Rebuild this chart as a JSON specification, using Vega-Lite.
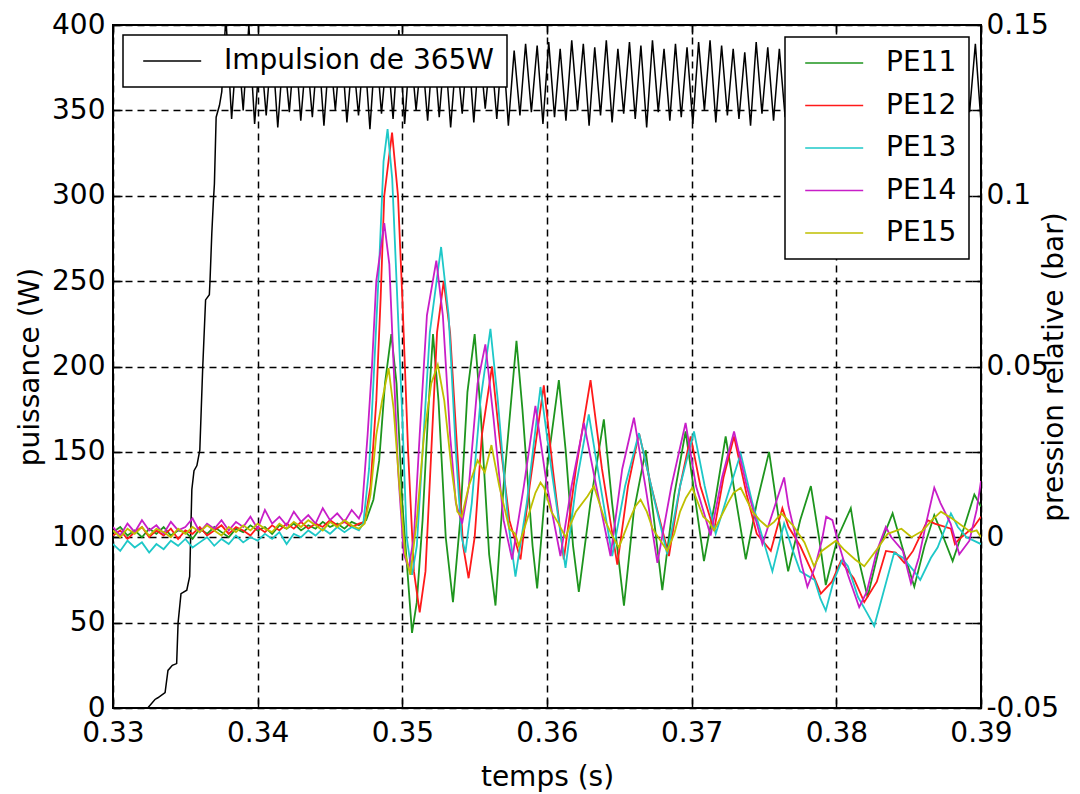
{
"$schema": "https://vega.github.io/schema/vega-lite/v6.json",
"width": 868, "height": 683,
"autosize": {"type": "none"},
"padding": {"left": 113, "top": 25, "right": 99, "bottom": 86},
"background": "white",
"config": {
 "view": {"stroke": "black", "strokeWidth": 2},
 "font": "DejaVu Sans",
 "axis": {"labelFont": "DejaVu Sans", "labelFontSize": 28, "labelColor": "black", "titleFont": "DejaVu Sans", "titleFontSize": 28, "titleFontWeight": "normal", "titleColor": "black", "domain": false, "tickColor": "black", "tickWidth": 1.5, "tickSize": -9, "gridColor": "black", "gridOpacity": 1, "gridDash": [7,5], "gridWidth": 1.5, "labelFlush": false, "labelOverlap": false},
 "legend": {"labelFont": "DejaVu Sans", "labelFontSize": 28, "labelColor": "black", "symbolType": "M-0.5,0H4.5", "symbolSize": 538, "symbolStrokeWidth": 1.5, "labelOffset": 61, "padding": 12, "rowPadding": 14.5, "strokeColor": "black", "fillColor": "white", "strokeWidth": 1.5, "zindex": 1, "labelLimit": 400}
},
"datasets": {
"power": [
{"t":0.33,"w":0},{"t":0.3324,"w":0},{"t":0.3329,"w":5},{"t":0.3331,"w":6},{"t":0.3336,"w":9},{"t":0.3338,"w":22},{"t":0.3341,"w":25},{"t":0.3344,"w":26},{"t":0.3345,"w":50},{"t":0.3347,"w":67},{"t":0.3351,"w":69},{"t":0.3353,"w":77},{"t":0.33545,"w":128},{"t":0.3356,"w":139},{"t":0.3358,"w":142},{"t":0.336,"w":151},{"t":0.3361,"w":175},{"t":0.3362,"w":199},{"t":0.3363,"w":219},{"t":0.3364,"w":239},{"t":0.33666,"w":242},{"t":0.33671,"w":251},{"t":0.33683,"w":278},{"t":0.33694,"w":297},{"t":0.33701,"w":307},{"t":0.33713,"w":346},{"t":0.33736,"w":353},{"t":0.33752,"w":361},
{"t":0.3378,"w":405},{"t":0.3382,"w":345},{"t":0.3386,"w":392},{"t":0.339,"w":350},{"t":0.33939,"w":400},{"t":0.33979,"w":342},{"t":0.34019,"w":388},{"t":0.34059,"w":347},{"t":0.34099,"w":390},{"t":0.34139,"w":340},{"t":0.34179,"w":386},{"t":0.34219,"w":349},{"t":0.34258,"w":391},{"t":0.34298,"w":344},{"t":0.34338,"w":385},{"t":0.34378,"w":346},{"t":0.34418,"w":389},{"t":0.34458,"w":341},{"t":0.34497,"w":387},{"t":0.34537,"w":350},{"t":0.34577,"w":391},{"t":0.34617,"w":343},{"t":0.34657,"w":384},{"t":0.34697,"w":347},{"t":0.34736,"w":388},{"t":0.34776,"w":339},{"t":0.34816,"w":390},{"t":0.34856,"w":348},{"t":0.34896,"w":386},{"t":0.34936,"w":345},{"t":0.34976,"w":397},{"t":0.35016,"w":342},{"t":0.35055,"w":389},{"t":0.35095,"w":350},{"t":0.35135,"w":385},{"t":0.35175,"w":344},{"t":0.35215,"w":391},{"t":0.35255,"w":346},{"t":0.35294,"w":387},{"t":0.35334,"w":340},{"t":0.35374,"w":384},{"t":0.35414,"w":348},{"t":0.35454,"w":390},{"t":0.35494,"w":343},{"t":0.35533,"w":388},{"t":0.35573,"w":351},{"t":0.35613,"w":386},{"t":0.35653,"w":345},{"t":0.35693,"w":391},{"t":0.35733,"w":341},{"t":0.35773,"w":385},{"t":0.35813,"w":347},{"t":0.35852,"w":389},{"t":0.35892,"w":349},{"t":0.35932,"w":388},{"t":0.35972,"w":342},{"t":0.36012,"w":390},{"t":0.36052,"w":346},{"t":0.36091,"w":386},{"t":0.36131,"w":344},{"t":0.36171,"w":391},{"t":0.36211,"w":350},{"t":0.36251,"w":389},{"t":0.36291,"w":341},{"t":0.3633,"w":387},{"t":0.3637,"w":347},{"t":0.3641,"w":391},{"t":0.3645,"w":343},{"t":0.3649,"w":386},{"t":0.3653,"w":348},{"t":0.3657,"w":390},{"t":0.3661,"w":345},{"t":0.36649,"w":388},{"t":0.36689,"w":340},{"t":0.36729,"w":391},{"t":0.36769,"w":349},{"t":0.36809,"w":386},{"t":0.36849,"w":344},{"t":0.36888,"w":389},{"t":0.36928,"w":346},{"t":0.36968,"w":387},{"t":0.37008,"w":342},{"t":0.37048,"w":390},{"t":0.37088,"w":350},{"t":0.37127,"w":391},{"t":0.37167,"w":343},{"t":0.37207,"w":388},{"t":0.37247,"w":347},{"t":0.37287,"w":386},{"t":0.37327,"w":345},{"t":0.37367,"w":384},{"t":0.37407,"w":341},{"t":0.37446,"w":390},{"t":0.37486,"w":348},{"t":0.37526,"w":387},{"t":0.37566,"w":344},{"t":0.37606,"w":386},{"t":0.37646,"w":346},{"t":0.37685,"w":389},{"t":0.37725,"w":340},{"t":0.37765,"w":391},{"t":0.37805,"w":349},{"t":0.37845,"w":385},{"t":0.37885,"w":343},{"t":0.37924,"w":388},{"t":0.37964,"w":347},{"t":0.38004,"w":390},{"t":0.38044,"w":345},{"t":0.38084,"w":386},{"t":0.38124,"w":342},{"t":0.38164,"w":389},{"t":0.38204,"w":350},{"t":0.38243,"w":387},{"t":0.38283,"w":344},{"t":0.38323,"w":391},{"t":0.38363,"w":346},{"t":0.38403,"w":385},{"t":0.38443,"w":341},{"t":0.38482,"w":388},{"t":0.38522,"w":348},{"t":0.38562,"w":390},{"t":0.38602,"w":343},{"t":0.38642,"w":386},{"t":0.38682,"w":347},{"t":0.38721,"w":389},{"t":0.38761,"w":345},{"t":0.38801,"w":387},{"t":0.38841,"w":342},{"t":0.38881,"w":390},{"t":0.38921,"w":349},{"t":0.38961,"w":389},{"t":0.39,"w":343}
],
"pres": [
{"t":0.33,"s":"PE11","p":0.0015},{"t":0.3305,"s":"PE11","p":0.003},{"t":0.331,"s":"PE11","p":0.0005},{"t":0.3315,"s":"PE11","p":0.002},{"t":0.332,"s":"PE11","p":0},{"t":0.3325,"s":"PE11","p":0.0025},{"t":0.333,"s":"PE11","p":0.001},{"t":0.3335,"s":"PE11","p":0.003},{"t":0.334,"s":"PE11","p":0.0005},{"t":0.3345,"s":"PE11","p":0.002},{"t":0.335,"s":"PE11","p":0.0015},{"t":0.3355,"s":"PE11","p":-0.0005},{"t":0.336,"s":"PE11","p":0.0025},{"t":0.3365,"s":"PE11","p":0.001},{"t":0.337,"s":"PE11","p":0.003},{"t":0.3375,"s":"PE11","p":0.0015},{"t":0.338,"s":"PE11","p":0},{"t":0.3385,"s":"PE11","p":0.0025},{"t":0.339,"s":"PE11","p":0.0015},{"t":0.3395,"s":"PE11","p":0.0035},{"t":0.34,"s":"PE11","p":0.002},{"t":0.3405,"s":"PE11","p":0.003},{"t":0.341,"s":"PE11","p":0.001},{"t":0.3415,"s":"PE11","p":0.0035},{"t":0.342,"s":"PE11","p":0.0025},{"t":0.3425,"s":"PE11","p":0.004},{"t":0.343,"s":"PE11","p":0.002},{"t":0.3435,"s":"PE11","p":0.0035},{"t":0.344,"s":"PE11","p":0.0025},{"t":0.3445,"s":"PE11","p":0.0045},{"t":0.345,"s":"PE11","p":0.003},{"t":0.3455,"s":"PE11","p":0.004},{"t":0.346,"s":"PE11","p":0.0025},{"t":0.3465,"s":"PE11","p":0.0045},{"t":0.347,"s":"PE11","p":0.0035},{"t":0.3475,"s":"PE11","p":0.005},{"t":0.348,"s":"PE11","p":0.011},{"t":0.3484,"s":"PE11","p":0.0225},{"t":0.3488,"s":"PE11","p":0.045},{"t":0.34924,"s":"PE11","p":0.0595},{"t":0.3496,"s":"PE11","p":0.045},{"t":0.35,"s":"PE11","p":0.01},{"t":0.35067,"s":"PE11","p":-0.028},{"t":0.351,"s":"PE11","p":-0.019},{"t":0.3514,"s":"PE11","p":0.005},{"t":0.3518,"s":"PE11","p":0.0375},{"t":0.35212,"s":"PE11","p":0.0595},{"t":0.3525,"s":"PE11","p":0.04},{"t":0.353,"s":"PE11","p":0},{"t":0.3535,"s":"PE11","p":-0.019},{"t":0.354,"s":"PE11","p":0.005},{"t":0.3545,"s":"PE11","p":0.0425},{"t":0.355,"s":"PE11","p":0.0595},{"t":0.3554,"s":"PE11","p":0.0375},{"t":0.356,"s":"PE11","p":-0.005},{"t":0.35644,"s":"PE11","p":-0.02},{"t":0.357,"s":"PE11","p":0.015},{"t":0.35789,"s":"PE11","p":0.0575},{"t":0.3583,"s":"PE11","p":0.0375},{"t":0.359,"s":"PE11","p":-0.0025},{"t":0.35932,"s":"PE11","p":-0.015},{"t":0.36,"s":"PE11","p":0.02},{"t":0.36082,"s":"PE11","p":0.046},{"t":0.3613,"s":"PE11","p":0.025},{"t":0.3618,"s":"PE11","p":-0.0025},{"t":0.3622,"s":"PE11","p":-0.016},{"t":0.363,"s":"PE11","p":0.01},{"t":0.36393,"s":"PE11","p":0.0345},{"t":0.3645,"s":"PE11","p":0.01},{"t":0.36532,"s":"PE11","p":-0.02},{"t":0.366,"s":"PE11","p":0.0075},{"t":0.36682,"s":"PE11","p":0.0255},{"t":0.3674,"s":"PE11","p":0.005},{"t":0.36797,"s":"PE11","p":-0.0155},{"t":0.3688,"s":"PE11","p":0.0125},{"t":0.36958,"s":"PE11","p":0.031},{"t":0.3702,"s":"PE11","p":0.0125},{"t":0.37085,"s":"PE11","p":-0.007},{"t":0.3716,"s":"PE11","p":0.01},{"t":0.37235,"s":"PE11","p":0.0295},{"t":0.373,"s":"PE11","p":0.0125},{"t":0.37374,"s":"PE11","p":-0.0065},{"t":0.3745,"s":"PE11","p":0.01},{"t":0.37535,"s":"PE11","p":0.025},{"t":0.376,"s":"PE11","p":0.006},{"t":0.37667,"s":"PE11","p":-0.01},{"t":0.3775,"s":"PE11","p":0.005},{"t":0.37824,"s":"PE11","p":0.015},{"t":0.3788,"s":"PE11","p":0},{"t":0.37927,"s":"PE11","p":-0.014},{"t":0.3801,"s":"PE11","p":0},{"t":0.381,"s":"PE11","p":0.0085},{"t":0.3816,"s":"PE11","p":-0.0075},{"t":0.38216,"s":"PE11","p":-0.0175},{"t":0.383,"s":"PE11","p":-0.0025},{"t":0.38389,"s":"PE11","p":0.007},{"t":0.3847,"s":"PE11","p":-0.005},{"t":0.38539,"s":"PE11","p":-0.0145},{"t":0.3861,"s":"PE11","p":-0.0025},{"t":0.38677,"s":"PE11","p":0.0065},{"t":0.3874,"s":"PE11","p":0},{"t":0.38804,"s":"PE11","p":-0.007},{"t":0.3888,"s":"PE11","p":0.0025},{"t":0.38954,"s":"PE11","p":0.0125},{"t":0.39,"s":"PE11","p":0.009},
{"t":0.33,"s":"PE12","p":0.0005},{"t":0.3305,"s":"PE12","p":0.002},{"t":0.331,"s":"PE12","p":-0.0005},{"t":0.3315,"s":"PE12","p":0.0015},{"t":0.332,"s":"PE12","p":0.003},{"t":0.3325,"s":"PE12","p":0},{"t":0.333,"s":"PE12","p":0.002},{"t":0.3335,"s":"PE12","p":0.0005},{"t":0.334,"s":"PE12","p":0.0025},{"t":0.3345,"s":"PE12","p":-0.0005},{"t":0.335,"s":"PE12","p":0.002},{"t":0.3355,"s":"PE12","p":0.001},{"t":0.336,"s":"PE12","p":0.003},{"t":0.3365,"s":"PE12","p":0.0005},{"t":0.337,"s":"PE12","p":0.002},{"t":0.3375,"s":"PE12","p":0.0035},{"t":0.338,"s":"PE12","p":0.001},{"t":0.3385,"s":"PE12","p":0.003},{"t":0.339,"s":"PE12","p":0.002},{"t":0.3395,"s":"PE12","p":0.0005},{"t":0.34,"s":"PE12","p":0.003},{"t":0.3405,"s":"PE12","p":0.0015},{"t":0.341,"s":"PE12","p":0.0035},{"t":0.3415,"s":"PE12","p":0.002},{"t":0.342,"s":"PE12","p":0.004},{"t":0.3425,"s":"PE12","p":0.0025},{"t":0.343,"s":"PE12","p":0.0045},{"t":0.3435,"s":"PE12","p":0.0025},{"t":0.344,"s":"PE12","p":0.004},{"t":0.3445,"s":"PE12","p":0.003},{"t":0.345,"s":"PE12","p":0.005},{"t":0.3455,"s":"PE12","p":0.0035},{"t":0.346,"s":"PE12","p":0.0045},{"t":0.3465,"s":"PE12","p":0.003},{"t":0.347,"s":"PE12","p":0.004},{"t":0.3474,"s":"PE12","p":0.0045},{"t":0.3478,"s":"PE12","p":0.015},{"t":0.3482,"s":"PE12","p":0.04},{"t":0.3485,"s":"PE12","p":0.07},{"t":0.34875,"s":"PE12","p":0.1},{"t":0.34929,"s":"PE12","p":0.1185},{"t":0.3497,"s":"PE12","p":0.1},{"t":0.35,"s":"PE12","p":0.07},{"t":0.3504,"s":"PE12","p":0.025},{"t":0.3508,"s":"PE12","p":-0.01},{"t":0.3512,"s":"PE12","p":-0.022},{"t":0.3516,"s":"PE12","p":-0.01},{"t":0.352,"s":"PE12","p":0.025},{"t":0.3524,"s":"PE12","p":0.06},{"t":0.35286,"s":"PE12","p":0.075},{"t":0.3533,"s":"PE12","p":0.06},{"t":0.3538,"s":"PE12","p":0.025},{"t":0.3542,"s":"PE12","p":-0.0025},{"t":0.35458,"s":"PE12","p":-0.012},{"t":0.355,"s":"PE12","p":0},{"t":0.3555,"s":"PE12","p":0.03},{"t":0.3562,"s":"PE12","p":0.05},{"t":0.3567,"s":"PE12","p":0.03},{"t":0.3574,"s":"PE12","p":0.005},{"t":0.35817,"s":"PE12","p":-0.0065},{"t":0.3588,"s":"PE12","p":0.015},{"t":0.35978,"s":"PE12","p":0.0445},{"t":0.3604,"s":"PE12","p":0.02},{"t":0.36116,"s":"PE12","p":-0.0065},{"t":0.362,"s":"PE12","p":0.02},{"t":0.36301,"s":"PE12","p":0.046},{"t":0.3638,"s":"PE12","p":0.02},{"t":0.36486,"s":"PE12","p":-0.008},{"t":0.3656,"s":"PE12","p":0.015},{"t":0.36636,"s":"PE12","p":0.0305},{"t":0.3672,"s":"PE12","p":0.015},{"t":0.36843,"s":"PE12","p":-0.0055},{"t":0.3692,"s":"PE12","p":0.015},{"t":0.36993,"s":"PE12","p":0.0295},{"t":0.3706,"s":"PE12","p":0.015},{"t":0.37155,"s":"PE12","p":0.002},{"t":0.3722,"s":"PE12","p":0.0175},{"t":0.37293,"s":"PE12","p":0.0295},{"t":0.3738,"s":"PE12","p":0.0125},{"t":0.3745,"s":"PE12","p":0.001},{"t":0.37547,"s":"PE12","p":-0.004},{"t":0.37627,"s":"PE12","p":0.0085},{"t":0.3775,"s":"PE12","p":-0.0025},{"t":0.37893,"s":"PE12","p":-0.0165},{"t":0.38031,"s":"PE12","p":-0.007},{"t":0.38193,"s":"PE12","p":-0.019},{"t":0.38343,"s":"PE12","p":-0.004},{"t":0.3847,"s":"PE12","p":-0.0075},{"t":0.38631,"s":"PE12","p":0.005},{"t":0.38792,"s":"PE12","p":0.0025},{"t":0.3885,"s":"PE12","p":-0.0005},{"t":0.39,"s":"PE12","p":0.006},
{"t":0.3767,"s":"PE12","p":0.003},{"t":0.3783,"s":"PE12","p":-0.01},{"t":0.3797,"s":"PE12","p":-0.013},{"t":0.3812,"s":"PE12","p":-0.012},{"t":0.3828,"s":"PE12","p":-0.013},{"t":0.3841,"s":"PE12","p":-0.0045},{"t":0.3853,"s":"PE12","p":-0.004},{"t":0.3868,"s":"PE12","p":0.004},{"t":0.3882,"s":"PE12","p":-0.002},{"t":0.3895,"s":"PE12","p":0.003},
{"t":0.33,"s":"PE13","p":-0.002},{"t":0.3305,"s":"PE13","p":-0.004},{"t":0.331,"s":"PE13","p":-0.001},{"t":0.3315,"s":"PE13","p":-0.003},{"t":0.332,"s":"PE13","p":-0.0015},{"t":0.3325,"s":"PE13","p":-0.0045},{"t":0.333,"s":"PE13","p":-0.002},{"t":0.3335,"s":"PE13","p":-0.0035},{"t":0.334,"s":"PE13","p":-0.001},{"t":0.3345,"s":"PE13","p":-0.0025},{"t":0.335,"s":"PE13","p":-0.0005},{"t":0.3355,"s":"PE13","p":-0.003},{"t":0.336,"s":"PE13","p":-0.0015},{"t":0.3365,"s":"PE13","p":0},{"t":0.337,"s":"PE13","p":-0.0025},{"t":0.3375,"s":"PE13","p":-0.0005},{"t":0.338,"s":"PE13","p":-0.002},{"t":0.3385,"s":"PE13","p":0.0005},{"t":0.339,"s":"PE13","p":-0.0015},{"t":0.3395,"s":"PE13","p":0},{"t":0.34,"s":"PE13","p":-0.001},{"t":0.3405,"s":"PE13","p":0.001},{"t":0.341,"s":"PE13","p":-0.0005},{"t":0.3415,"s":"PE13","p":0.0015},{"t":0.342,"s":"PE13","p":-0.002},{"t":0.3425,"s":"PE13","p":0.001},{"t":0.343,"s":"PE13","p":0},{"t":0.3435,"s":"PE13","p":0.002},{"t":0.344,"s":"PE13","p":0.0005},{"t":0.3445,"s":"PE13","p":0.0025},{"t":0.345,"s":"PE13","p":0.001},{"t":0.3455,"s":"PE13","p":0.003},{"t":0.346,"s":"PE13","p":0.0015},{"t":0.3465,"s":"PE13","p":0.003},{"t":0.347,"s":"PE13","p":0.002},{"t":0.3473,"s":"PE13","p":0.004},{"t":0.3477,"s":"PE13","p":0.02},{"t":0.348,"s":"PE13","p":0.045},{"t":0.3484,"s":"PE13","p":0.08},{"t":0.3487,"s":"PE13","p":0.11},{"t":0.34898,"s":"PE13","p":0.1195},{"t":0.3493,"s":"PE13","p":0.105},{"t":0.3496,"s":"PE13","p":0.075},{"t":0.35,"s":"PE13","p":0.035},{"t":0.3503,"s":"PE13","p":0},{"t":0.35067,"s":"PE13","p":-0.011},{"t":0.351,"s":"PE13","p":-0.0025},{"t":0.3514,"s":"PE13","p":0.025},{"t":0.3519,"s":"PE13","p":0.06},{"t":0.35268,"s":"PE13","p":0.085},{"t":0.3532,"s":"PE13","p":0.065},{"t":0.3537,"s":"PE13","p":0.025},{"t":0.3541,"s":"PE13","p":0},{"t":0.35436,"s":"PE13","p":-0.0045},{"t":0.3548,"s":"PE13","p":0.01},{"t":0.3554,"s":"PE13","p":0.04},{"t":0.35609,"s":"PE13","p":0.061},{"t":0.3566,"s":"PE13","p":0.04},{"t":0.3573,"s":"PE13","p":0.005},{"t":0.35782,"s":"PE13","p":-0.0115},{"t":0.3586,"s":"PE13","p":0.01},{"t":0.35955,"s":"PE13","p":0.044},{"t":0.3603,"s":"PE13","p":0.02},{"t":0.36128,"s":"PE13","p":-0.009},{"t":0.362,"s":"PE13","p":0.015},{"t":0.36289,"s":"PE13","p":0.036},{"t":0.3637,"s":"PE13","p":0.015},{"t":0.36451,"s":"PE13","p":-0.0055},{"t":0.3654,"s":"PE13","p":0.015},{"t":0.36636,"s":"PE13","p":0.0305},{"t":0.3672,"s":"PE13","p":0.015},{"t":0.36831,"s":"PE13","p":-0.005},{"t":0.3692,"s":"PE13","p":0.015},{"t":0.37016,"s":"PE13","p":0.031},{"t":0.3709,"s":"PE13","p":0.015},{"t":0.37166,"s":"PE13","p":0.001},{"t":0.3725,"s":"PE13","p":0.0125},{"t":0.37339,"s":"PE13","p":0.0245},{"t":0.3742,"s":"PE13","p":0.01},{"t":0.37558,"s":"PE13","p":-0.01},{"t":0.37639,"s":"PE13","p":0.004},{"t":0.3775,"s":"PE13","p":-0.01},{"t":0.37927,"s":"PE13","p":-0.0215},{"t":0.38042,"s":"PE13","p":-0.0065},{"t":0.3815,"s":"PE13","p":-0.0175},{"t":0.38262,"s":"PE13","p":-0.026},{"t":0.384,"s":"PE13","p":-0.0045},{"t":0.38539,"s":"PE13","p":-0.01},{"t":0.38654,"s":"PE13","p":-0.006},{"t":0.38792,"s":"PE13","p":0.007},{"t":0.389,"s":"PE13","p":0},{"t":0.39,"s":"PE13","p":-0.002},
{"t":0.377,"s":"PE13","p":-0.004},{"t":0.3785,"s":"PE13","p":-0.0125},{"t":0.3789,"s":"PE13","p":-0.018},{"t":0.3798,"s":"PE13","p":-0.013},{"t":0.3808,"s":"PE13","p":-0.0085},{"t":0.3821,"s":"PE13","p":-0.022},{"t":0.3832,"s":"PE13","p":-0.017},{"t":0.3846,"s":"PE13","p":-0.006},{"t":0.3858,"s":"PE13","p":-0.0125},{"t":0.387,"s":"PE13","p":-0.003},{"t":0.3884,"s":"PE13","p":0.003},{"t":0.3895,"s":"PE13","p":-0.001},
{"t":0.33,"s":"PE14","p":0.003},{"t":0.3305,"s":"PE14","p":0.0005},{"t":0.331,"s":"PE14","p":0.004},{"t":0.3315,"s":"PE14","p":0.0015},{"t":0.332,"s":"PE14","p":0.005},{"t":0.3325,"s":"PE14","p":0.002},{"t":0.333,"s":"PE14","p":0.0035},{"t":0.3335,"s":"PE14","p":0.001},{"t":0.334,"s":"PE14","p":0.0045},{"t":0.3345,"s":"PE14","p":0.002},{"t":0.335,"s":"PE14","p":0.003},{"t":0.3355,"s":"PE14","p":0.0055},{"t":0.336,"s":"PE14","p":0.0015},{"t":0.3365,"s":"PE14","p":0.004},{"t":0.337,"s":"PE14","p":0.0025},{"t":0.3375,"s":"PE14","p":0.005},{"t":0.338,"s":"PE14","p":0.002},{"t":0.3385,"s":"PE14","p":0.0045},{"t":0.339,"s":"PE14","p":0.003},{"t":0.3395,"s":"PE14","p":0.006},{"t":0.34,"s":"PE14","p":0.0025},{"t":0.3405,"s":"PE14","p":0.008},{"t":0.341,"s":"PE14","p":0.004},{"t":0.3415,"s":"PE14","p":0.006},{"t":0.342,"s":"PE14","p":0.0035},{"t":0.3425,"s":"PE14","p":0.0075},{"t":0.343,"s":"PE14","p":0.0045},{"t":0.3435,"s":"PE14","p":0.0065},{"t":0.344,"s":"PE14","p":0.004},{"t":0.3445,"s":"PE14","p":0.0085},{"t":0.345,"s":"PE14","p":0.005},{"t":0.3455,"s":"PE14","p":0.007},{"t":0.346,"s":"PE14","p":0.0045},{"t":0.3465,"s":"PE14","p":0.008},{"t":0.347,"s":"PE14","p":0.0055},{"t":0.3472,"s":"PE14","p":0.0075},{"t":0.3476,"s":"PE14","p":0.03},{"t":0.3479,"s":"PE14","p":0.05},{"t":0.3482,"s":"PE14","p":0.075},{"t":0.34875,"s":"PE14","p":0.092},{"t":0.3491,"s":"PE14","p":0.08},{"t":0.3494,"s":"PE14","p":0.05},{"t":0.3497,"s":"PE14","p":0.02},{"t":0.3501,"s":"PE14","p":-0.005},{"t":0.35044,"s":"PE14","p":-0.009},{"t":0.3508,"s":"PE14","p":0},{"t":0.3512,"s":"PE14","p":0.03},{"t":0.3517,"s":"PE14","p":0.065},{"t":0.35235,"s":"PE14","p":0.081},{"t":0.3528,"s":"PE14","p":0.065},{"t":0.3533,"s":"PE14","p":0.03},{"t":0.3537,"s":"PE14","p":0.01},{"t":0.35413,"s":"PE14","p":0.004},{"t":0.3546,"s":"PE14","p":0.015},{"t":0.3552,"s":"PE14","p":0.045},{"t":0.35574,"s":"PE14","p":0.0565},{"t":0.3563,"s":"PE14","p":0.035},{"t":0.357,"s":"PE14","p":0.005},{"t":0.35759,"s":"PE14","p":-0.0065},{"t":0.3584,"s":"PE14","p":0.015},{"t":0.3592,"s":"PE14","p":0.0385},{"t":0.36,"s":"PE14","p":0.015},{"t":0.36093,"s":"PE14","p":-0.0055},{"t":0.3617,"s":"PE14","p":0.015},{"t":0.36255,"s":"PE14","p":0.0335},{"t":0.3634,"s":"PE14","p":0.015},{"t":0.36439,"s":"PE14","p":-0.0055},{"t":0.3652,"s":"PE14","p":0.02},{"t":0.36601,"s":"PE14","p":0.035},{"t":0.3668,"s":"PE14","p":0.015},{"t":0.36763,"s":"PE14","p":-0.0075},{"t":0.3686,"s":"PE14","p":0.015},{"t":0.36958,"s":"PE14","p":0.0335},{"t":0.3703,"s":"PE14","p":0.015},{"t":0.37131,"s":"PE14","p":0.0005},{"t":0.3721,"s":"PE14","p":0.0175},{"t":0.37293,"s":"PE14","p":0.031},{"t":0.3738,"s":"PE14","p":0.015},{"t":0.37489,"s":"PE14","p":-0.002},{"t":0.37639,"s":"PE14","p":0.0175},{"t":0.3772,"s":"PE14","p":0},{"t":0.378,"s":"PE14","p":-0.0145},{"t":0.37973,"s":"PE14","p":0.005},{"t":0.38158,"s":"PE14","p":-0.0205},{"t":0.38342,"s":"PE14","p":0.003},{"t":0.38516,"s":"PE14","p":-0.0135},{"t":0.38677,"s":"PE14","p":0.0145},{"t":0.3885,"s":"PE14","p":-0.005},{"t":0.39,"s":"PE14","p":0.0165},
{"t":0.3767,"s":"PE14","p":0.009},{"t":0.3776,"s":"PE14","p":-0.008},{"t":0.3785,"s":"PE14","p":-0.009},{"t":0.379,"s":"PE14","p":-0.001},{"t":0.3793,"s":"PE14","p":0.006},{"t":0.3801,"s":"PE14","p":-0.001},{"t":0.3808,"s":"PE14","p":-0.011},{"t":0.3821,"s":"PE14","p":-0.016},{"t":0.3828,"s":"PE14","p":-0.004},{"t":0.3838,"s":"PE14","p":0},{"t":0.3846,"s":"PE14","p":-0.004},{"t":0.3857,"s":"PE14","p":-0.006},{"t":0.3862,"s":"PE14","p":0.004},{"t":0.3872,"s":"PE14","p":0.01},{"t":0.3879,"s":"PE14","p":0.004},{"t":0.3892,"s":"PE14","p":-0.001},{"t":0.3897,"s":"PE14","p":0.008},
{"t":0.33,"s":"PE15","p":0.002},{"t":0.3305,"s":"PE15","p":0},{"t":0.331,"s":"PE15","p":0.0025},{"t":0.3315,"s":"PE15","p":0.001},{"t":0.332,"s":"PE15","p":0.003},{"t":0.3325,"s":"PE15","p":0.0005},{"t":0.333,"s":"PE15","p":0.0025},{"t":0.3335,"s":"PE15","p":0.0015},{"t":0.334,"s":"PE15","p":0},{"t":0.3345,"s":"PE15","p":0.0025},{"t":0.335,"s":"PE15","p":0.001},{"t":0.3355,"s":"PE15","p":0.003},{"t":0.336,"s":"PE15","p":0.0015},{"t":0.3365,"s":"PE15","p":0.0035},{"t":0.337,"s":"PE15","p":0.002},{"t":0.3375,"s":"PE15","p":0.0005},{"t":0.338,"s":"PE15","p":0.003},{"t":0.3385,"s":"PE15","p":0.0015},{"t":0.339,"s":"PE15","p":0.0035},{"t":0.3395,"s":"PE15","p":0.002},{"t":0.34,"s":"PE15","p":0.004},{"t":0.3405,"s":"PE15","p":0.0025},{"t":0.341,"s":"PE15","p":0.0015},{"t":0.3415,"s":"PE15","p":0.004},{"t":0.342,"s":"PE15","p":0.0025},{"t":0.3425,"s":"PE15","p":0.0045},{"t":0.343,"s":"PE15","p":0.003},{"t":0.3435,"s":"PE15","p":0.005},{"t":0.344,"s":"PE15","p":0.0035},{"t":0.3445,"s":"PE15","p":0.002},{"t":0.345,"s":"PE15","p":0.0045},{"t":0.3455,"s":"PE15","p":0.003},{"t":0.346,"s":"PE15","p":0.005},{"t":0.3465,"s":"PE15","p":0.0035},{"t":0.347,"s":"PE15","p":0.0025},{"t":0.3474,"s":"PE15","p":0.004},{"t":0.3478,"s":"PE15","p":0.0125},{"t":0.3482,"s":"PE15","p":0.03},{"t":0.3486,"s":"PE15","p":0.04},{"t":0.34905,"s":"PE15","p":0.0495},{"t":0.3494,"s":"PE15","p":0.0375},{"t":0.3498,"s":"PE15","p":0.015},{"t":0.3502,"s":"PE15","p":-0.005},{"t":0.35055,"s":"PE15","p":-0.011},{"t":0.351,"s":"PE15","p":0.005},{"t":0.3515,"s":"PE15","p":0.03},{"t":0.352,"s":"PE15","p":0.045},{"t":0.35245,"s":"PE15","p":0.0505},{"t":0.3529,"s":"PE15","p":0.04},{"t":0.3534,"s":"PE15","p":0.02},{"t":0.3538,"s":"PE15","p":0.0075},{"t":0.3541,"s":"PE15","p":0.006},{"t":0.3546,"s":"PE15","p":0.015},{"t":0.35616,"s":"PE15","p":0.027},{"t":0.3567,"s":"PE15","p":0.015},{"t":0.3574,"s":"PE15","p":0.0025},{"t":0.35805,"s":"PE15","p":-0.0025},{"t":0.3588,"s":"PE15","p":0.0075},{"t":0.35955,"s":"PE15","p":0.016},{"t":0.3603,"s":"PE15","p":0.0075},{"t":0.36128,"s":"PE15","p":0},{"t":0.362,"s":"PE15","p":0.0075},{"t":0.36324,"s":"PE15","p":0.015},{"t":0.364,"s":"PE15","p":0.005},{"t":0.36497,"s":"PE15","p":-0.003},{"t":0.3657,"s":"PE15","p":0.005},{"t":0.36647,"s":"PE15","p":0.011},{"t":0.3673,"s":"PE15","p":0.0025},{"t":0.36831,"s":"PE15","p":-0.004},{"t":0.3692,"s":"PE15","p":0.0075},{"t":0.37004,"s":"PE15","p":0.0145},{"t":0.3708,"s":"PE15","p":0.006},{"t":0.37155,"s":"PE15","p":0.002},{"t":0.3725,"s":"PE15","p":0.01},{"t":0.37339,"s":"PE15","p":0.0145},{"t":0.3742,"s":"PE15","p":0.0075},{"t":0.37524,"s":"PE15","p":0.003},{"t":0.3762,"s":"PE15","p":0.007},{"t":0.37846,"s":"PE15","p":-0.0085},{"t":0.37997,"s":"PE15","p":-0.001},{"t":0.38193,"s":"PE15","p":-0.0085},{"t":0.38355,"s":"PE15","p":0.001},{"t":0.3852,"s":"PE15","p":0},{"t":0.38723,"s":"PE15","p":0.0075},{"t":0.3893,"s":"PE15","p":0.0015},{"t":0.39,"s":"PE15","p":0},
{"t":0.3552,"s":"PE15","p":0.0225},{"t":0.3557,"s":"PE15","p":0.019},{"t":0.3578,"s":"PE15","p":0.001},{"t":0.3592,"s":"PE15","p":0.013},{"t":0.3598,"s":"PE15","p":0.0145},{"t":0.3608,"s":"PE15","p":0.004},{"t":0.3616,"s":"PE15","p":0.0035},{"t":0.3628,"s":"PE15","p":0.012},{"t":0.3645,"s":"PE15","p":0.0005},{"t":0.3661,"s":"PE15","p":0.009},{"t":0.3669,"s":"PE15","p":0.0075},{"t":0.3688,"s":"PE15","p":0.001},{"t":0.3696,"s":"PE15","p":0.0115},{"t":0.3712,"s":"PE15","p":0.0045},{"t":0.3729,"s":"PE15","p":0.013},{"t":0.3747,"s":"PE15","p":0.005},{"t":0.3757,"s":"PE15","p":0.0045},{"t":0.377,"s":"PE15","p":0.0035},{"t":0.3778,"s":"PE15","p":-0.0015},{"t":0.379,"s":"PE15","p":-0.004},{"t":0.3805,"s":"PE15","p":-0.0035},{"t":0.3813,"s":"PE15","p":-0.0065},{"t":0.3829,"s":"PE15","p":-0.003},{"t":0.3845,"s":"PE15","p":0.0025},{"t":0.386,"s":"PE15","p":0.002},{"t":0.3866,"s":"PE15","p":0.005},{"t":0.388,"s":"PE15","p":0.0055},{"t":0.3897,"s":"PE15","p":0.002}
]
},
"layer": [
 {"data": {"name": "power"},
  "mark": {"type": "line", "strokeWidth": 1.5, "clip": true},
  "encoding": {
   "x": {"field": "t", "type": "quantitative", "scale": {"domain": [0.33, 0.39], "nice": false, "zero": false},
         "axis": {"orient": "bottom", "values": [0.33,0.34,0.35,0.36,0.37,0.38,0.39], "format": ".2f", "title": "temps (s)", "grid": true, "labelPadding": 20, "titlePadding": 16}},
   "y": {"field": "w", "type": "quantitative", "scale": {"domain": [0, 400], "nice": false, "zero": false},
         "axis": {"orient": "left", "values": [0,50,100,150,200,250,300,350,400], "format": "d", "title": "puissance (W)", "grid": true, "labelPadding": 17, "titlePadding": 7}},
   "color": {"datum": "Impulsion de 365W", "scale": {"range": ["black"]},
             "legend": {"orient": "top-left", "title": null, "offset": 10}}
  }},
 {"data": {"name": "pres"},
  "mark": {"type": "line", "strokeWidth": 1.8, "clip": true},
  "encoding": {
   "x": {"field": "t", "type": "quantitative",
         "axis": {"orient": "top", "values": [0.33,0.34,0.35,0.36,0.37,0.38,0.39], "labels": false, "title": null, "grid": false}},
   "y": {"field": "p", "type": "quantitative", "scale": {"domain": [-0.05, 0.15], "nice": false, "zero": false},
         "axis": {"orient": "right", "values": [-0.05,-0.025,0,0.025,0.05,0.075,0.1,0.125,0.15], "labelExpr": "abs(datum.value*20 - round(datum.value*20)) < 0.001 ? (datum.value < 0 ? '-' : '') + format(abs(datum.value), '') : ''", "title": "pression relative (bar)", "titleAngle": 270, "grid": false, "labelPadding": 14, "titlePadding": 10}},
   "color": {"field": "s", "type": "nominal",
             "scale": {"domain": ["PE11","PE12","PE13","PE14","PE15"], "range": ["#1e951e","#ff1a1a","#1ec8c8","#c81ec8","#bfbf00"]},
             "legend": {"orient": "top-right", "title": null, "offset": 12}}
  }}
],
"resolve": {"scale": {"y": "independent", "color": "independent"}, "axis": {"x": "independent", "y": "independent"}, "legend": {"color": "independent"}}
}
